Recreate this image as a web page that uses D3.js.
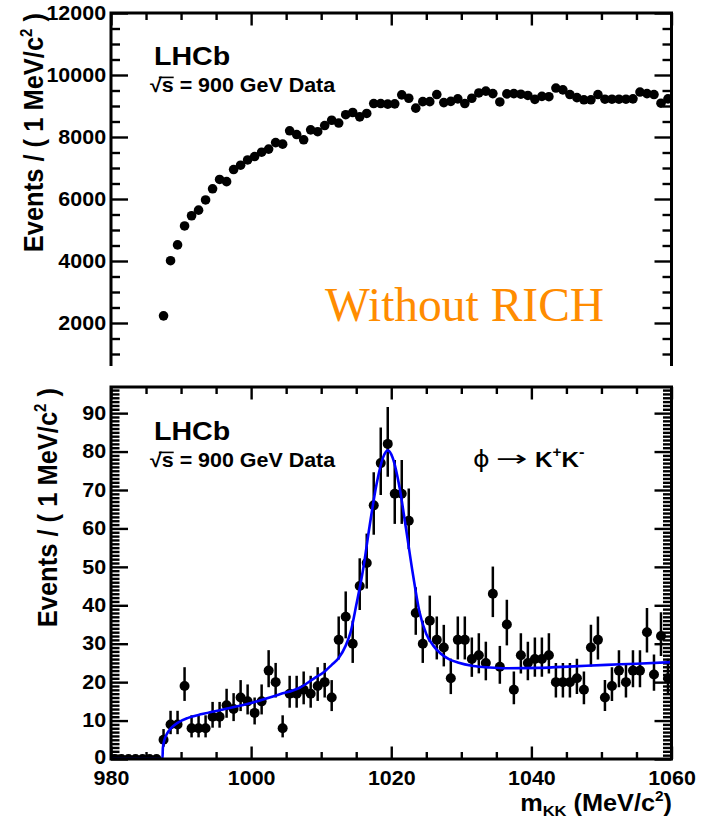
<!DOCTYPE html>
<html><head><meta charset="utf-8">
<script src="https://cdn.jsdelivr.net/npm/d3@7"></script>
<style>
html,body{margin:0;padding:0;background:#fff;}
</style></head><body>
<svg id="c" width="709" height="822"></svg>
<script>
// ---------------- DATA ----------------
const topMass = [987.5,988.5,989.5,990.5,991.5,992.5,993.5,994.5,995.5,996.5,
997.5,998.5,999.5,1000.5,1001.5,1002.5,1003.5,1004.5,1005.5,1006.5,
1007.5,1008.5,1009.5,1010.5,1011.5,1012.5,1013.5,1014.5,1015.5,1016.5,
1017.5,1018.5,1019.5,1020.5,1021.5,1022.5,1023.5,1024.5,1025.5,1026.5,
1027.5,1028.5,1029.5,1030.5,1031.5,1032.5,1033.5,1034.5,1035.5,1036.5,
1037.5,1038.5,1039.5,1040.5,1041.5,1042.5,1043.5,1044.5,1045.5,1046.5,
1047.5,1048.5,1049.5,1050.5,1051.5,1052.5,1053.5,1054.5,1055.5,1056.5,
1057.5,1058.5,1059.5];
const topCounts = [2230,4010,4520,5130,5460,5640,5970,6330,6630,6560,
6950,7090,7260,7370,7510,7610,7820,7770,8200,8080,
7910,8230,8170,8370,8540,8450,8720,8790,8650,8760,
9080,9080,9060,9070,9360,9250,8930,9140,9140,9370,
9110,9150,9230,9080,9250,9420,9480,9400,9130,9390,
9400,9380,9340,9215,9310,9300,9580,9520,9370,9270,
9200,9200,9370,9220,9220,9220,9220,9230,9450,9400,
9370,9090,9230];
const bottomMass = [980.5,981.5,982.5,983.5,984.5,985.5,986.5].concat(topMass);
const bottomCounts = [0,0,0,0,0,0,0,
5,9,9,19,8,8,8,11,11,14,
13,16,15,12,15,23,20,8,17,17,
18,17,19,20,16,31,37,30,45,51,
66,77,82,69,69,62,38,30,36,31,
29,21,31,31,26,27,25,43,24,35,
18,27,25,26,26,27,20,20,20,21,
18,29,31,16,19,23,20,23,23,33,
22,32,21];
const fitMass = [980,987.35,987.4,987.6,988.0,988.5,989.5,991,993,996,1000,1004,1007,1009,1010.5,1011.5,1012.5,1013.5,1014.2,1015,1016,1016.9,1017.9,1018.8,1019.5,1020.2,1021.2,1022.1,1023.1,1024,1025,1026,1027,1028.3,1029.5,1031.7,1034,1036.4,1041,1046,1050.7,1055,1060];
const fitValues = [0,0,2.8,4.8,6.6,7.9,9.4,10.7,11.7,12.9,14.6,16.8,18.6,21,22.8,24.5,26.3,29.5,33,40,49.5,60.5,71.5,78.3,80.3,78.4,70.5,60,48,38.5,32.5,29.5,27.5,25.9,25.1,24.2,23.8,23.6,23.7,24.1,24.5,24.8,25.2];
const xTicks = [980,1000,1020,1040,1060];
const topYTicks = [2000,4000,6000,8000,10000,12000];
const bottomYTicks = [0,10,20,30,40,50,60,70,80,90];

// ---------------- LAYOUT ----------------
const SANS = "'Liberation Sans',Arial,Helvetica,sans-serif";
const SERIF = "'Liberation Serif','Times New Roman',serif";
const svg = d3.select("#c");
svg.append("rect").attr("width",709).attr("height",822).attr("fill","#fff");
const SX = 1.1; // horizontal stretch of source image
const x = d3.scaleLinear().domain([980,1060]).range([111,671.5]);
const yT = d3.scaleLinear().domain([0,12000]).range([385,13]);
const yB = d3.scaleLinear().domain([0,96.8]).range([759,387]);
const defs = svg.append("defs");
defs.append("clipPath").attr("id","topclip").append("rect").attr("x",0).attr("y",0).attr("width",709).attr("height",366);
defs.append("clipPath").attr("id","botclip").append("rect").attr("x",111).attr("y",387).attr("width",560.5).attr("height",372);

function styleAxis(g, showLabels){
  g.select(".domain").remove();
  g.selectAll("line").attr("stroke","#000").attr("stroke-width",2.4);
  g.attr("font-size",19.5).attr("font-family",SANS).attr("font-weight","bold");
  g.selectAll("text").attr("fill","#000").attr("transform",`scale(${SX},1)`);
  if(!showLabels) g.selectAll("text").remove();
}
function minorVals(scale, step, majors){
  const [a,b] = scale.domain();
  return d3.range(Math.ceil(a/step)*step, b+1e-9, step).filter(v=>!majors.some(m=>Math.abs(m-v)<1e-9));
}

// ---------------- TOP PANEL ----------------
const gt = svg.append("g").attr("clip-path","url(#topclip)");
const topYMin = minorVals(yT,500,topYTicks.concat([0]));
const xMin = minorVals(x,5,xTicks);
gt.append("g").attr("transform","translate(111,0)")
  .call(d3.axisLeft(yT).tickValues(topYTicks).tickSizeInner(-17).tickSizeOuter(0).tickPadding(4.5).tickFormat(d3.format("d")))
  .call(g=>styleAxis(g,true));
gt.append("g").attr("transform","translate(111,0)")
  .call(d3.axisLeft(yT).tickValues(topYMin).tickSizeInner(-9).tickSizeOuter(0).tickFormat(""))
  .call(g=>styleAxis(g,false));
gt.append("g").attr("transform","translate(671.5,0)")
  .call(d3.axisRight(yT).tickValues(topYTicks).tickSizeInner(-17).tickSizeOuter(0).tickFormat(""))
  .call(g=>styleAxis(g,false));
gt.append("g").attr("transform","translate(671.5,0)")
  .call(d3.axisRight(yT).tickValues(topYMin).tickSizeInner(-9).tickSizeOuter(0).tickFormat(""))
  .call(g=>styleAxis(g,false));
gt.append("g").attr("transform","translate(0,13)")
  .call(d3.axisTop(x).tickValues(xTicks).tickSizeInner(-12.5).tickSizeOuter(0).tickFormat(""))
  .call(g=>styleAxis(g,false));
gt.append("g").attr("transform","translate(0,13)")
  .call(d3.axisTop(x).tickValues(xMin).tickSizeInner(-7).tickSizeOuter(0).tickFormat(""))
  .call(g=>styleAxis(g,false));
gt.append("path").attr("d",`M111,366 L111,13 L671.5,13 L671.5,366`).attr("fill","none").attr("stroke","#000").attr("stroke-width",3);
gt.append("g").selectAll("circle").data(topMass.map((m,i)=>[m,topCounts[i]])).join("circle")
  .attr("cx",d=>x(d[0])).attr("cy",d=>yT(d[1])).attr("r",4.8).attr("fill","#000");

// ---------------- BOTTOM PANEL ----------------
const gb = svg.append("g");
const botYMin = minorVals(yB,1,bottomYTicks);
gb.append("g").attr("transform","translate(111,0)")
  .call(d3.axisLeft(yB).tickValues(bottomYTicks).tickSizeInner(-17).tickSizeOuter(0).tickPadding(4.5).tickFormat(d3.format("d")))
  .call(g=>styleAxis(g,true))
  .call(g=>g.selectAll(".tick").filter(d=>d===0).select("text").attr("dy","0.22em"));
gb.append("g").attr("transform","translate(111,0)")
  .call(d3.axisLeft(yB).tickValues(botYMin).tickSizeInner(-8.5).tickSizeOuter(0).tickFormat(""))
  .call(g=>styleAxis(g,false));
gb.append("g").attr("transform","translate(671.5,0)")
  .call(d3.axisRight(yB).tickValues(bottomYTicks).tickSizeInner(-17).tickSizeOuter(0).tickFormat(""))
  .call(g=>styleAxis(g,false));
gb.append("g").attr("transform","translate(671.5,0)")
  .call(d3.axisRight(yB).tickValues(botYMin).tickSizeInner(-8.5).tickSizeOuter(0).tickFormat(""))
  .call(g=>styleAxis(g,false));
gb.append("g").attr("transform","translate(0,759)")
  .call(d3.axisBottom(x).tickValues(xTicks).tickSizeInner(-12.5).tickSizeOuter(0).tickPadding(12.5).tickFormat(d3.format("d")))
  .call(g=>styleAxis(g,true));
gb.append("g").attr("transform","translate(0,759)")
  .call(d3.axisBottom(x).tickValues(xMin).tickSizeInner(-7).tickSizeOuter(0).tickFormat(""))
  .call(g=>styleAxis(g,false));
gb.append("g").attr("transform","translate(0,387)")
  .call(d3.axisTop(x).tickValues(xTicks).tickSizeInner(-12.5).tickSizeOuter(0).tickFormat(""))
  .call(g=>styleAxis(g,false));
gb.append("g").attr("transform","translate(0,387)")
  .call(d3.axisTop(x).tickValues(xMin).tickSizeInner(-7).tickSizeOuter(0).tickFormat(""))
  .call(g=>styleAxis(g,false));

const gbd = gb.append("g").attr("clip-path","url(#botclip)");
const pts = bottomMass.map((m,i)=>{const n=bottomCounts[i];const s=Math.sqrt(n+0.25);return {m,n,hi:n+s+0.5,lo:Math.max(0,n-s+0.5)};});
gbd.append("g").selectAll("line").data(pts).join("line")
  .attr("x1",d=>x(d.m)).attr("x2",d=>x(d.m)).attr("y1",d=>yB(d.lo)).attr("y2",d=>yB(d.hi))
  .attr("stroke","#000").attr("stroke-width",2.5);
gbd.append("g").selectAll("circle").data(pts).join("circle")
  .attr("cx",d=>x(d.m)).attr("cy",d=>yB(d.n)).attr("r",5).attr("fill","#000");
gbd.append("path").datum(fitMass.map((m,i)=>[m,fitValues[i]]))
  .attr("d",d3.line().x(d=>x(d[0])).y(d=>yB(d[1])).curve(d3.curveMonotoneX))
  .attr("fill","none").attr("stroke","#0000ff").attr("stroke-width",2.6);
gb.append("rect").attr("x",111).attr("y",387).attr("width",560.5).attr("height",372)
  .attr("fill","none").attr("stroke","#000").attr("stroke-width",3);

// ---------------- TEXT ----------------
function stext(xp,yp,fs,weight,anchor,family){
  const g = svg.append("g").attr("transform",`translate(${xp},${yp}) scale(${SX},1)`);
  const t = g.append("text").attr("x",0).attr("y",0).attr("font-size",fs).attr("font-weight",weight)
    .attr("text-anchor",anchor||"start").attr("fill","#000").attr("font-family",family||SANS);
  return {g,t};
}
function lhcb(yl, ys){
  stext(154,yl,26,"bold").t.text("LHCb");
  const o = stext(150,ys,19.5,"bold");
  o.t.text("√s = 900 GeV Data");
  const e0 = o.t.node().getExtentOfChar(0), e1 = o.t.node().getExtentOfChar(1);
  const yTop = -14.6;
  o.g.append("line").attr("x1",e0.x+e0.width*0.75).attr("x2",e1.x+e1.width).attr("y1",yTop).attr("y2",yTop)
    .attr("stroke","#000").attr("stroke-width",1.6);
}
lhcb(65,92);
lhcb(440,467);

// Y titles
function ytitle(xb, ytop){
  const g = svg.append("g").attr("transform",`translate(${xb},${ytop}) rotate(-90) scale(1,${SX})`);
  const t = g.append("text").attr("text-anchor","end").attr("font-size",25.5).attr("font-weight","bold")
    .attr("fill","#000").attr("font-family",SANS);
  t.append("tspan").text("Events / ( 1 MeV/c");
  t.append("tspan").attr("font-size",15).attr("dy",-10).text("2");
  t.append("tspan").attr("dy",10).text(" )");
}
ytitle(43,13);
ytitle(57,388);

// X title
{
  const o = stext(672,811,23,"bold","end");
  o.t.append("tspan").text("m");
  o.t.append("tspan").attr("font-size",15).attr("dy",5).text("KK");
  o.t.append("tspan").attr("dy",-5).text(" (MeV/c");
  o.t.append("tspan").attr("font-size",14).attr("dy",-10).text("2");
  o.t.append("tspan").attr("dy",10).text(")");
}

// phi -> K+K-
{
  stext(473,467,23,"normal","start","'DejaVu Sans',sans-serif").t.text("ϕ");
  stext(496,466,22,"normal","start","'DejaVu Sans',sans-serif").t
    .attr("textLength",29).attr("lengthAdjust","spacingAndGlyphs").text("→");
  const c = stext(535,467,22,"bold");
  c.t.append("tspan").text("K");
  c.t.append("tspan").attr("font-size",14).attr("dy",-10).text("+");
  c.t.append("tspan").attr("dy",10).text("K");
  c.t.append("tspan").attr("font-size",15).attr("dy",-10).text("-");
}

// Without RICH
svg.append("text").attr("x",325).attr("y",321).attr("font-family",SERIF)
  .attr("font-size",47.5).attr("fill","#ff8c00").text("Without RICH");
</script>
</body></html>
